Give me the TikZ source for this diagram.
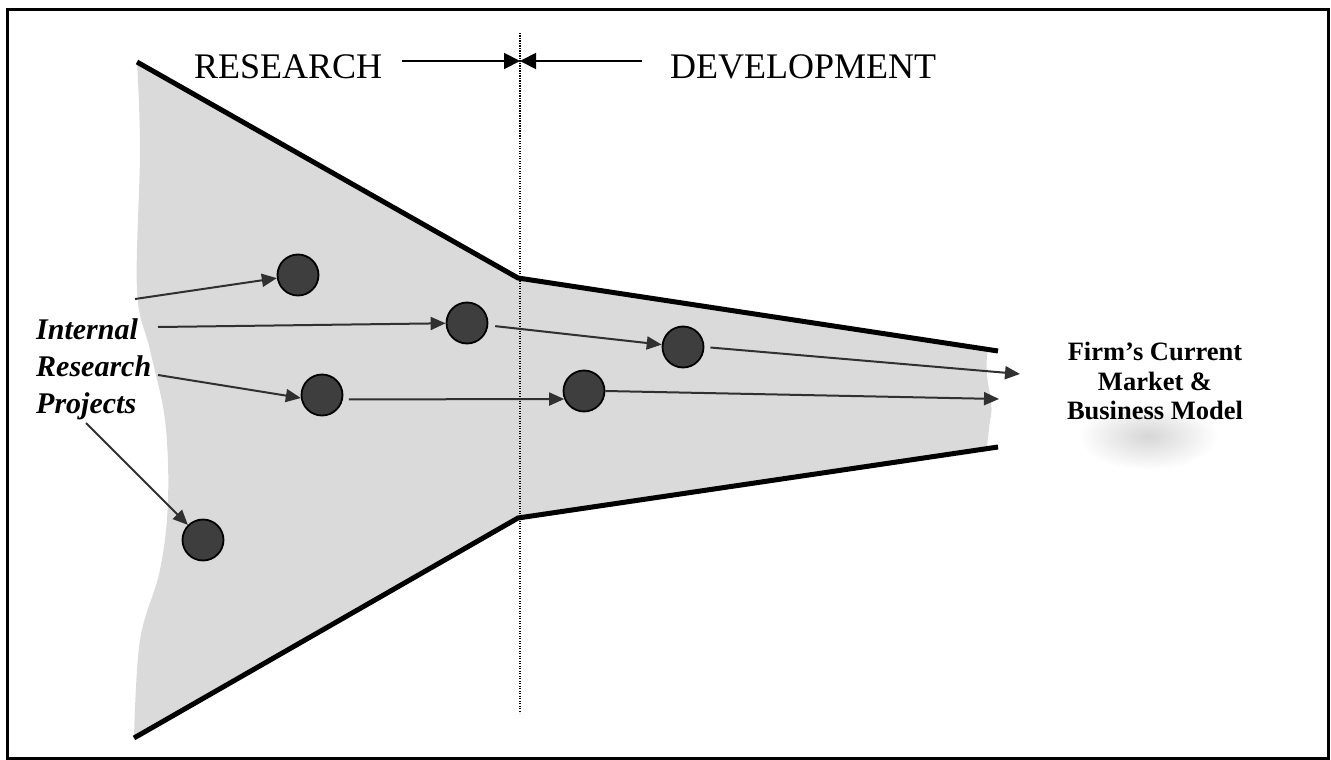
\documentclass[tikz,border=0pt]{standalone}
\usepackage{fontspec}
\setmainfont{Liberation Serif}
\usetikzlibrary{arrows.meta}
\definecolor{funnelgray}{RGB}{218,218,218}
\definecolor{dotfill}{RGB}{62,62,62}
\definecolor{arrowgray}{RGB}{48,48,48}
\begin{document}
\begin{tikzpicture}[x=1pt,y=-1pt,
  proj/.style={circle, draw=black, line width=1.8pt, fill=dotfill, minimum size=41pt, inner sep=0pt},
  flow/.style={draw=arrowgray, line width=2pt, -{Triangle[length=15pt,width=13pt]}},
  edgeline/.style={line width=5pt, black},
  phase/.style={-{Triangle[length=16pt,width=16pt]}, line width=2pt, black}]
\useasboundingbox (0,0) rectangle (1331,760);
% funnel fill
\fill[funnelgray] plot[smooth, tension=0.6] coordinates {(134,738) (140,640) (160,570) (168,500) (165,420) (150,350) (137,290) (140,150) (137,62)}
  -- (518,278) -- (988,350) .. controls (982,380) and (996,400) .. (990,420) -- (987,447) -- (518,518) -- cycle;
% glow behind label
\shade[inner color=gray!32, outer color=white] (1148,436) ellipse [x radius=70, y radius=34];
% frame
\draw[line width=3pt] (7,10) rectangle (1328,758);
% funnel edges
\draw[edgeline] (137,62) -- (518,278) -- (998,351);
\draw[edgeline] (134,738) -- (518,518) -- (998,447);
% divider
\coordinate (dtop) at (520,33);
\coordinate (dbot) at (520,713);
\draw[black, line width=1.1pt, dash pattern=on 1.2pt off 1.3pt] (dtop) -- (dbot);
% phase labels
\node[anchor=base west, inner sep=0pt, font=\fontsize{36}{40}\selectfont] (research) at (194,79) {RESEARCH};
\node[anchor=base west, inner sep=0pt, font=\fontsize{36}{40}\selectfont] (development) at (670,79) {DEVELOPMENT};
\coordinate (rs) at (402,61);
\coordinate (dv) at (642,61);
\coordinate (mid) at (520,61);
\draw[phase] (rs) -- (mid);
\draw[phase] (dv) -- (mid);
% projects
\node[proj] (c1) at (298,275) {};
\node[proj] (c2) at (467,323) {};
\node[proj] (c3) at (683,347) {};
\node[proj] (c4) at (322,395) {};
\node[proj] (c5) at (584,391) {};
\node[proj] (c6) at (203,540) {};
% labels
\node[anchor=north west, inner sep=0pt, align=left, font=\fontsize{30}{37}\selectfont\bfseries\itshape] (irp) at (36,318) {Internal\\Research\\Projects};
\node[anchor=north, inner sep=0pt, align=center, font=\fontsize{26.5}{29.5}\selectfont\bfseries] (firm) at (1155,342) {Firm’s Current\\Market \&\\Business Model};
% arrow free ends
\coordinate (a1) at (135,299);
\coordinate (a2) at (158,327);
\coordinate (a3) at (158,375);
\coordinate (a4) at (86,423);
\coordinate (e1) at (1020,374);
\coordinate (e2) at (999,399);
% flows
\draw[flow] (a1) -- (c1);
\draw[flow] (a2) -- (c2);
\draw[flow] (a3) -- (c4.188);
\draw[flow] (a4) -- (c6);
\draw[flow, shorten <=7pt] (c2) -- (c3);
\draw[flow, shorten <=6pt] (c4.348) -- (c5.202);
\draw[flow, shorten <=6pt] (c3.east) -- (e1);
\draw[flow] (c5.east) -- (e2);
\end{tikzpicture}
\end{document}
